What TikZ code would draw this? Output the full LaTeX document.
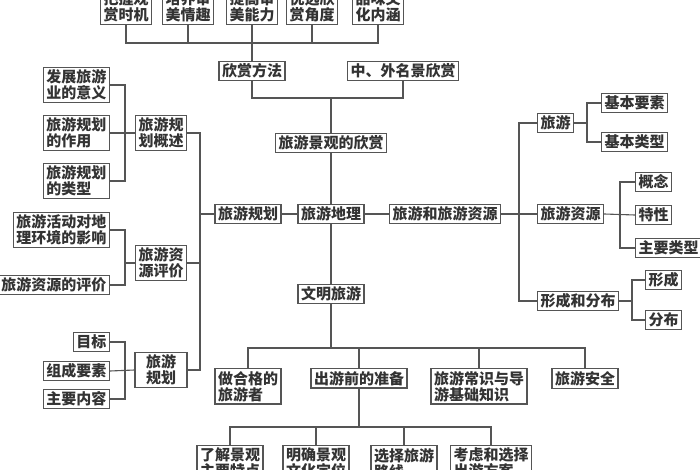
\documentclass[tikz,border=0pt]{standalone}
\usepackage{fontspec}
\newfontfamily\cjk{Noto Sans CJK SC}
\definecolor{linegray}{HTML}{555555}
\definecolor{textgray}{HTML}{333333}

\begin{document}
\begin{tikzpicture}[x=1pt, y=-1pt,
  box/.style={draw=linegray, line width=1.2pt, fill=white, text=textgray,
    inner xsep=3pt, inner ysep=2.5pt, align=left,
    font=\cjk\bfseries\fontsize{15}{16}\selectfont},
  conn/.style={draw=linegray, line width=1.1pt}]

\useasboundingbox[fill=white] (0,0) rectangle (700,470);

% top row
\draw (126,25) node[box, anchor=south] (t1) {把握观\\赏时机};
\draw (188,25) node[box, anchor=south] (t2) {培养审\\美情趣};
\draw (252,25) node[box, anchor=south] (t3) {提高审\\美能力};
\draw (312,25) node[box, anchor=south] (t4) {优选欣\\赏角度};
\draw (378,25) node[box, anchor=south] (t5) {品味文\\化内涵};

\draw (252,71) node[box] (fa) {欣赏方法};
\draw (403,71) node[box] (zw) {中、外名景欣赏};
\draw (331,143) node[box] (jg) {旅游景观的欣赏};

% main row
\draw (248,214) node[box] (gh) {旅游规划};
\draw (331,214) node[box] (dl) {旅游地理};
\draw (445,214) node[box] (zy) {旅游和旅游资源};

% left side
\draw (161,133) node[box] (g1) {旅游规\\划概述};
\draw (161,263) node[box] (g2) {旅游资\\源评价};
\draw (161,370) node[box, minimum width=52pt, align=center] (g3) {旅游\\规划};

\draw (110,85) node[box, anchor=east] (l1) {发展旅游\\业的意义};
\draw (110,133) node[box, anchor=east] (l2) {旅游规划\\的作用};
\draw (110,181) node[box, anchor=east] (l3) {旅游规划\\的类型};
\draw (110,230) node[box, anchor=east] (l4) {旅游活动对地\\理环境的影响};
\draw (110,285) node[box, anchor=east] (l5) {旅游资源的评价};
\draw (110,342) node[box, anchor=east] (l6) {目标};
\draw (110,371) node[box, anchor=east] (l7) {组成要素};
\draw (110,399) node[box, anchor=east] (l8) {主要内容};

% right side
\draw (537,123) node[box, anchor=west] (r1) {旅游};
\draw (537,214) node[box, anchor=west] (r2) {旅游资源};
\draw (537,301) node[box, anchor=west] (r3) {形成和分布};

\draw (601,103) node[box, anchor=west] (s1) {基本要素};
\draw (601,142) node[box, anchor=west] (s2) {基本类型};
\draw (635,182) node[box, anchor=west] (s3) {概念};
\draw (635,215) node[box, anchor=west] (s4) {特性};
\draw (635,248) node[box, anchor=west] (s5) {主要类型};
\draw (645,280) node[box, anchor=west] (s6) {形成};
\draw (645,320) node[box, anchor=west] (s7) {分布};

% lower part
\draw (331,294) node[box] (wm) {文明旅游};

\draw (248,368) node[box, anchor=north] (c1) {做合格的\\旅游者};
\draw (359,368) node[box, anchor=north] (c2) {出游前的准备};
\draw (479,368) node[box, anchor=north] (c3) {旅游常识与导\\游基础知识};
\draw (585,368) node[box, anchor=north] (c4) {旅游安全};

\draw (230,445) node[box, anchor=north] (b1) {了解景观\\主要特点};
\draw (316,445) node[box, anchor=north] (b2) {明确景观\\文化定位};
\draw (404,445) node[box, anchor=north] (b3) {选择旅游\\路线};
\draw (491,445) node[box, anchor=north] (b4) {考虑和选择\\出游方案};

% connectors
\coordinate (tbar) at (252,43);
\coordinate (mbar) at (331,98);
\coordinate (lsp) at (200,214);
\coordinate (rsp) at (519,214);
\coordinate (wbar) at (331,348);
\coordinate (cbar) at (359,427);
\coordinate (k1) at (125,133);
\coordinate (k2) at (125,263);
\coordinate (k3) at (125,370);
\coordinate (k4) at (587,123);
\coordinate (k5) at (620,214);
\coordinate (k6) at (632,301);

\draw[conn] (t1.south) |- (tbar) -| (t5.south);
\draw[conn] (t2.south) -- (t2.south |- tbar);
\draw[conn] (t4.south) -- (t4.south |- tbar);
\draw[conn] (t3.south) -- (fa.north);

\draw[conn] (fa.south) |- (mbar) -| (zw.south);
\draw[conn] (mbar) -- (jg.north);
\draw[conn] (jg.south) -- (dl.north);

\draw[conn] (gh.east) -- (dl.west);
\draw[conn] (dl.east) -- (zy.west);
\draw[conn] (dl.south) -- (wm.north);

\draw[conn] (g1.east) -| (lsp) |- (g3.east);
\draw[conn] (g2.east) -- (g2.east -| lsp);
\draw[conn] (gh.west) -- (lsp);

\draw[conn] (l1.east) -| (k1) |- (l3.east);
\draw[conn] (l2.east) -- (g1.west);
\draw[conn] (l4.east) -| (k2) |- (l5.east);
\draw[conn] (k2) -- (g2.west);
\draw[conn] (l6.east) -| (k3) |- (l8.east);
\draw[conn] (l7.east) -- (g3.west);

\draw[conn] (r1.west) -| (rsp) |- (r3.west);
\draw[conn] (zy.east) -- (r2.west);
\draw[conn] (s1.west) -| (k4) |- (s2.west);
\draw[conn] (r1.east) -- (k4);
\draw[conn] (s3.west) -| (k5) |- (s5.west);
\draw[conn] (r2.east) -- (s4.west);
\draw[conn] (s6.west) -| (k6) |- (s7.west);
\draw[conn] (r3.east) -- (k6);

\draw[conn] (wm.south) -- (wbar);
\draw[conn] (c1.north) |- (wbar) -| (c4.north);
\draw[conn] (c2.north) -- (c2.north |- wbar);
\draw[conn] (c3.north) -- (c3.north |- wbar);

\draw[conn] (c2.south) -- (cbar);
\draw[conn] (b1.north) |- (cbar) -| (b4.north);
\draw[conn] (b2.north) -- (b2.north |- cbar);
\draw[conn] (b3.north) -- (b3.north |- cbar);

\end{tikzpicture}
\end{document}
